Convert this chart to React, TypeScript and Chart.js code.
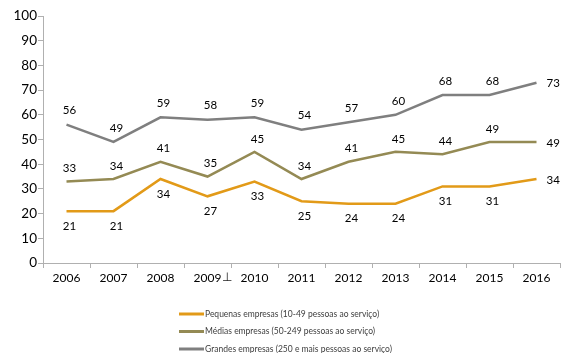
import React, { useEffect, useRef } from "react";
import { Chart, registerables } from "chart.js";

Chart.register(...registerables);

const years = ["2006", "2007", "2008", "2009", "2010", "2011", "2012", "2013", "2014", "2015", "2016"];
const pequenas = [21, 21, 34, 27, 33, 25, 24, 24, 31, 31, 34];
const medias = [33, 34, 41, 35, 45, 34, 41, 45, 44, 49, 49];
const grandes = [56, 49, 59, 58, 59, 54, 57, 60, 68, 68, 73];
const seriesNames = [
  "Pequenas empresas (10-49 pessoas ao serviço)",
  "Médias empresas (50-249 pessoas ao serviço)",
  "Grandes empresas (250 e mais pessoas ao serviço)",
];
const seriesColors = ["#E29A18", "#948A54", "#7F7F7F"];
const labelOffsets = [15, -13, -14];

const FONT = "Lato, 'Open Sans', sans-serif";

const valueLabels = {
  id: "valueLabels",
  afterDatasetsDraw(chart: any) {
    const ctx = chart.ctx;
    ctx.save();
    ctx.font = `11.5px ${FONT}`;
    ctx.fillStyle = "#000000";
    ctx.textBaseline = "middle";
    chart.data.datasets.forEach((ds: any, di: number) => {
      const meta = chart.getDatasetMeta(di);
      meta.data.forEach((pt: any, i: number) => {
        const v = ds.data[i];
        if (i === ds.data.length - 1) {
          ctx.textAlign = "left";
          ctx.fillText(String(v), pt.x + 10, pt.y + 1);
        } else {
          ctx.textAlign = "center";
          ctx.fillText(String(v), pt.x + 3, pt.y + labelOffsets[di]);
        }
      });
    });
    // small stray marker next to the 2009 label, as in the source
    const xs = chart.scales.x;
    ctx.font = `12px ${FONT}`;
    ctx.textAlign = "center";
    ctx.fillStyle = "#222222";
    ctx.fillText("⊥", xs.getPixelForValue(3) + 19, chart.chartArea.bottom + 14);
    ctx.restore();
  },
};

const customLegend = {
  id: "customLegend",
  afterDraw(chart: any) {
    const ctx = chart.ctx;
    const top = chart.chartArea.bottom + 51;
    ctx.save();
    ctx.font = `8.5px ${FONT}`;
    ctx.textBaseline = "middle";
    ctx.textAlign = "left";
    chart.data.datasets.forEach((ds: any, di: number) => {
      const y = top + di * 17.5;
      ctx.strokeStyle = ds.borderColor;
      ctx.lineWidth = 3;
      ctx.beginPath();
      ctx.moveTo(179, y);
      ctx.lineTo(204, y);
      ctx.stroke();
      ctx.fillStyle = "#404040";
      ctx.fillText(ds.label, 205, y);
    });
    ctx.restore();
  },
};

export default function App() {
  const ref = useRef<HTMLCanvasElement | null>(null);
  useEffect(() => {
    if (!ref.current) return;
    const mk = (label: string, data: number[], color: string) => ({
      label,
      data,
      borderColor: color,
      backgroundColor: color,
      borderWidth: 2.5,
      pointRadius: 0,
      tension: 0,
      clip: false as any,
    });
    const chart = new Chart(ref.current, {
      type: "line",
      data: {
        labels: years,
        datasets: [
          mk(seriesNames[0], pequenas, seriesColors[0]),
          mk(seriesNames[1], medias, seriesColors[1]),
          mk(seriesNames[2], grandes, seriesColors[2]),
        ],
      },
      options: {
        animation: false,
        responsive: false,
        devicePixelRatio: 1,
        layout: { padding: { top: 16, right: 1, left: 0, bottom: 0 } },
        plugins: { legend: { display: false }, tooltip: { enabled: false } },
        scales: {
          x: {
            offset: true,
            grid: {
              display: true,
              drawOnChartArea: false,
              drawTicks: true,
              tickLength: 5,
              color: "#B0B0B0",
              offset: true,
            },
            border: { color: "#B0B0B0", width: 1 },
            ticks: {
              font: { family: FONT, size: 12 },
              color: "#000000",
              padding: 3,
              maxRotation: 0,
            },
            afterFit(scale: any) {
              scale.height = 90;
            },
          },
          y: {
            min: 0,
            max: 100,
            grid: {
              display: true,
              drawOnChartArea: false,
              drawTicks: true,
              tickLength: 5,
              color: "#B0B0B0",
            },
            border: { color: "#B0B0B0", width: 1 },
            ticks: {
              stepSize: 10,
              font: { family: FONT, size: 13.5 },
              color: "#000000",
              padding: 1,
            },
            afterFit(scale: any) {
              scale.width = 43;
            },
          },
        },
      },
      plugins: [valueLabels, customLegend],
    });
    return () => chart.destroy();
  }, []);
  return (
    <div style={{ position: "absolute", left: 0, top: 0, width: 561, height: 353, background: "#ffffff" }}>
      <canvas ref={ref} width={561} height={353} style={{ display: "block" }} />
    </div>
  );
}
